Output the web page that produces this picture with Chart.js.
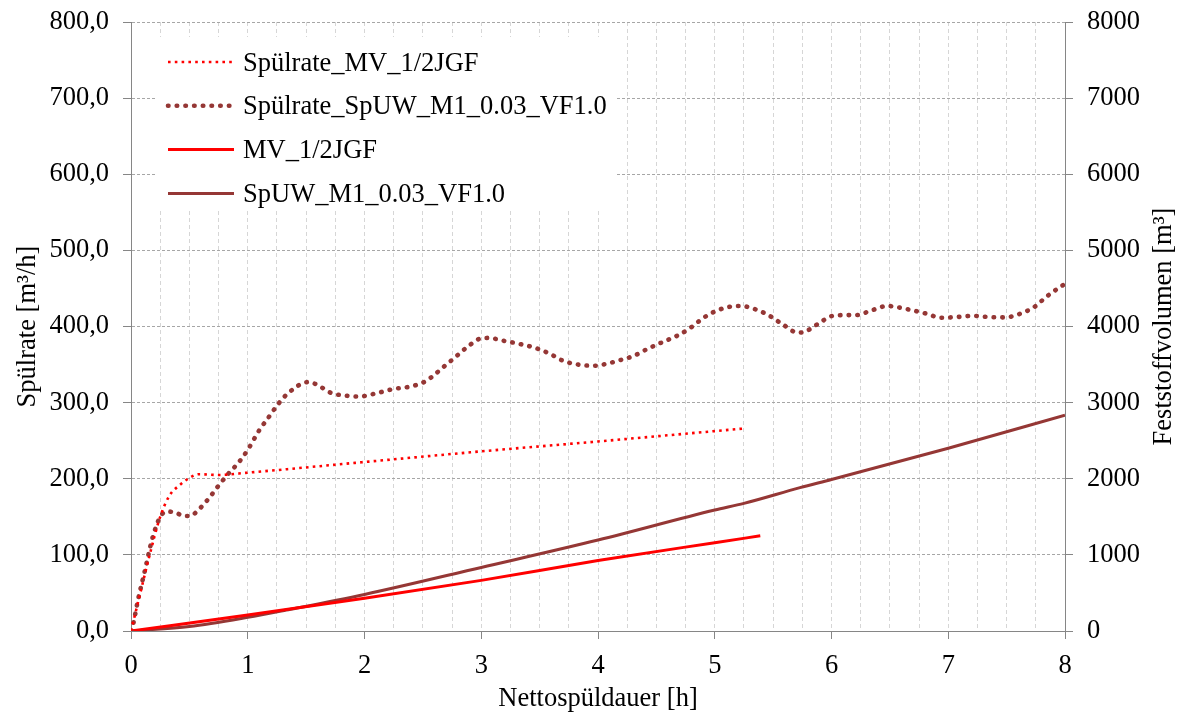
<!DOCTYPE html>
<html>
<head>
<meta charset="utf-8">
<script src="https://cdn.jsdelivr.net/npm/chart.js@4"></script>
<style>
  html, body { margin: 0; padding: 0; background: #fff; }
  canvas { display: block; }
</style>
</head>
<body>
<canvas id="chart" width="1190" height="712"></canvas>
<script>
// Values
const mvRateHours = [0, 0.08, 0.16, 0.25, 0.33, 0.42, 0.5, 0.58, 0.75, 1, 2, 3, 4, 5.25];
const mvRateValues = [0, 50, 100, 150, 178, 192, 201, 206, 205, 208, 222, 236, 249, 266];

const spuwRateHours = [0, 0.02, 0.06, 0.12, 0.18, 0.25, 0.31, 0.39, 0.45, 0.51, 0.57, 0.66, 0.74, 0.83, 0.92, 1.0,
    1.1, 1.18, 1.26, 1.35, 1.52, 1.6, 1.71, 1.85, 1.95, 2.12, 2.25, 2.39, 2.51, 2.57, 2.67, 2.78, 2.88, 2.99,
    3.06, 3.2, 3.33, 3.46, 3.59, 3.7, 3.85, 3.97, 4.1, 4.17, 4.3, 4.43, 4.56, 4.68, 4.79, 4.9, 5.02, 5.15,
    5.22, 5.35, 5.47, 5.59, 5.71, 5.77, 5.89, 6.01, 6.14, 6.21, 6.34, 6.48, 6.54, 6.67, 6.81, 6.94, 7.08,
    7.21, 7.34, 7.49, 7.62, 7.74, 7.84, 7.94, 8.0];
const spuwRateValues = [0, 10, 41, 80, 120, 150, 157, 155, 151, 151, 158, 173, 189, 206, 221, 238,
    264, 281, 298, 313, 327, 323, 313, 309, 308, 313, 318, 321, 327, 333, 346, 360, 373, 384,
    385, 381, 377, 372, 364, 355, 349.5, 348.5, 352, 355, 361, 371, 380, 388, 398, 411, 421, 426.5,
    427, 422.5, 414, 402, 392, 393, 404, 414, 415, 415, 421, 427, 426, 422, 417, 411.5, 412.5,
    414, 412.5, 412, 417, 426, 439, 450, 456];

const mvVolHours = [0, 1, 2, 3, 4, 5, 5.39];
const mvVolValues = [0, 210, 430, 665, 925, 1160, 1250];

const spuwVolHours = [0, 0.5, 1, 1.33, 2, 3, 4, 5, 5.25, 5.73, 6, 7, 8];
const spuwVolValues = [0, 60, 180, 275, 480, 835, 1195, 1590, 1677, 1883, 1990, 2400, 2835];

const seriesLabels = ['Spülrate_MV_1/2JGF', 'Spülrate_SpUW_M1_0.03_VF1.0', 'MV_1/2JGF', 'SpUW_M1_0.03_VF1.0'];
const xTickLabels = ['0', '1', '2', '3', '4', '5', '6', '7', '8'];
const leftTickLabels = ['0,0', '100,0', '200,0', '300,0', '400,0', '500,0', '600,0', '700,0', '800,0'];
const rightTickLabels = ['0', '1000', '2000', '3000', '4000', '5000', '6000', '7000', '8000'];

const FONT = 'Liberation Serif';
const FONT_SIZE = 26.5;
const RED = '#ff0000';
const BROWN = '#953735';
const AXIS = '#868686';

function toPoints(xs, ys) {
    return xs.map((x, i) => ({ x: x, y: ys[i] }));
}

const tickFont = { family: FONT, size: FONT_SIZE };

// Legend box inside the plot area, plus the right axis title (reads bottom to top)
const extras = {
    id: 'extras',
    beforeDatasetsDraw(chart) {
        const ctx = chart.ctx;
        ctx.save();
        ctx.fillStyle = '#fff';
        ctx.fillRect(157, 37, 460, 173);
        chart.data.datasets.forEach((ds, i) => {
            const y = 62 + i * 43.8;
            ctx.beginPath();
            ctx.strokeStyle = ds.borderColor;
            ctx.lineWidth = ds.borderWidth;
            ctx.setLineDash(ds.borderDash || []);
            ctx.lineCap = ds.borderCapStyle || 'butt';
            ctx.moveTo(168, y);
            ctx.lineTo(234, y);
            ctx.stroke();
            ctx.setLineDash([]);
            ctx.fillStyle = '#000';
            ctx.font = `${FONT_SIZE}px "${FONT}"`;
            ctx.textBaseline = 'alphabetic';
            ctx.textAlign = 'left';
            ctx.fillText(ds.label, 243, y + 8.5);
        });
        ctx.restore();
    },
    afterDraw(chart) {
        const ctx = chart.ctx;
        const area = chart.chartArea;
        ctx.save();
        ctx.translate(1164, (area.top + area.bottom) / 2);
        ctx.rotate(-Math.PI / 2);
        ctx.fillStyle = '#000';
        ctx.font = `${FONT_SIZE}px "${FONT}"`;
        ctx.textAlign = 'center';
        ctx.textBaseline = 'middle';
        ctx.fillText('Feststoffvolumen [m³]', 0, 0);
        ctx.restore();
    }
};

new Chart(document.getElementById('chart'), {
    type: 'line',
    data: {
        datasets: [
            {
                label: seriesLabels[0],
                data: toPoints(mvRateHours, mvRateValues),
                yAxisID: 'y',
                borderColor: RED,
                borderWidth: 2.6,
                borderDash: [2.6, 4.2],
                borderCapStyle: 'butt',
                cubicInterpolationMode: 'monotone',
                pointRadius: 0
            },
            {
                label: seriesLabels[1],
                data: toPoints(spuwRateHours, spuwRateValues),
                yAxisID: 'y',
                borderColor: BROWN,
                borderWidth: 4.6,
                borderDash: [0.5, 8.2],
                borderCapStyle: 'round',
                cubicInterpolationMode: 'monotone',
                pointRadius: 0
            },
            {
                label: seriesLabels[2],
                data: toPoints(mvVolHours, mvVolValues),
                yAxisID: 'y1',
                borderColor: RED,
                borderWidth: 3,
                cubicInterpolationMode: 'monotone',
                pointRadius: 0
            },
            {
                label: seriesLabels[3],
                data: toPoints(spuwVolHours, spuwVolValues),
                yAxisID: 'y1',
                borderColor: BROWN,
                borderWidth: 3,
                cubicInterpolationMode: 'monotone',
                pointRadius: 0
            }
        ]
    },
    options: {
        responsive: false,
        animation: false,
        layout: { padding: { top: 22, left: 0, right: 0, bottom: 0 } },
        plugins: {
            legend: { display: false },
            tooltip: { enabled: false }
        },
        scales: {
            x: {
                type: 'linear',
                min: 0,
                max: 8,
                afterFit: s => { s.height = 81; },
                ticks: {
                    stepSize: 0.25,
                    autoSkip: false,
                    maxRotation: 0,
                    padding: 11,
                    color: '#000',
                    font: tickFont,
                    callback: v => Number.isInteger(v) ? xTickLabels[v] : ''
                },
                grid: {
                    color: '#d6d6d6',
                    lineWidth: 1,
                    tickLength: 8,
                    tickColor: c => (c.tick && Number.isInteger(c.tick.value)) ? AXIS : 'rgba(0,0,0,0)',
                    tickBorderDash: []
                },
                border: { color: AXIS, width: 1, dash: [4, 3] },
                title: {
                    display: true,
                    text: 'Nettospüldauer [h]',
                    color: '#000',
                    font: tickFont,
                    padding: { top: 0, bottom: -3 }
                }
            },
            y: {
                position: 'left',
                min: 0,
                max: 800,
                afterFit: s => { s.width = 131; s.paddingTop = 0; s.paddingBottom = 0; },
                ticks: {
                    stepSize: 100,
                    padding: 14,
                    color: '#000',
                    font: tickFont,
                    callback: (v, i) => leftTickLabels[i]
                },
                grid: {
                    color: '#a6a6a6',
                    lineWidth: 1,
                    tickLength: 8,
                    tickColor: AXIS,
                    tickBorderDash: []
                },
                border: { color: AXIS, width: 1, dash: [3, 2] },
                title: {
                    display: true,
                    text: 'Spülrate [m³/h]',
                    color: '#000',
                    font: tickFont,
                    padding: { top: 12, bottom: 0 }
                }
            },
            y1: {
                position: 'right',
                min: 0,
                max: 8000,
                afterFit: s => { s.width = 125; s.paddingTop = 0; s.paddingBottom = 0; },
                ticks: {
                    stepSize: 1000,
                    padding: 14,
                    color: '#000',
                    font: tickFont,
                    callback: (v, i) => rightTickLabels[i]
                },
                grid: {
                    drawOnChartArea: false,
                    drawTicks: true,
                    tickLength: 8,
                    tickColor: AXIS,
                    tickBorderDash: []
                },
                border: { color: AXIS, width: 1 }
            }
        }
    },
    plugins: [extras]
});
</script>
</body>
</html>
